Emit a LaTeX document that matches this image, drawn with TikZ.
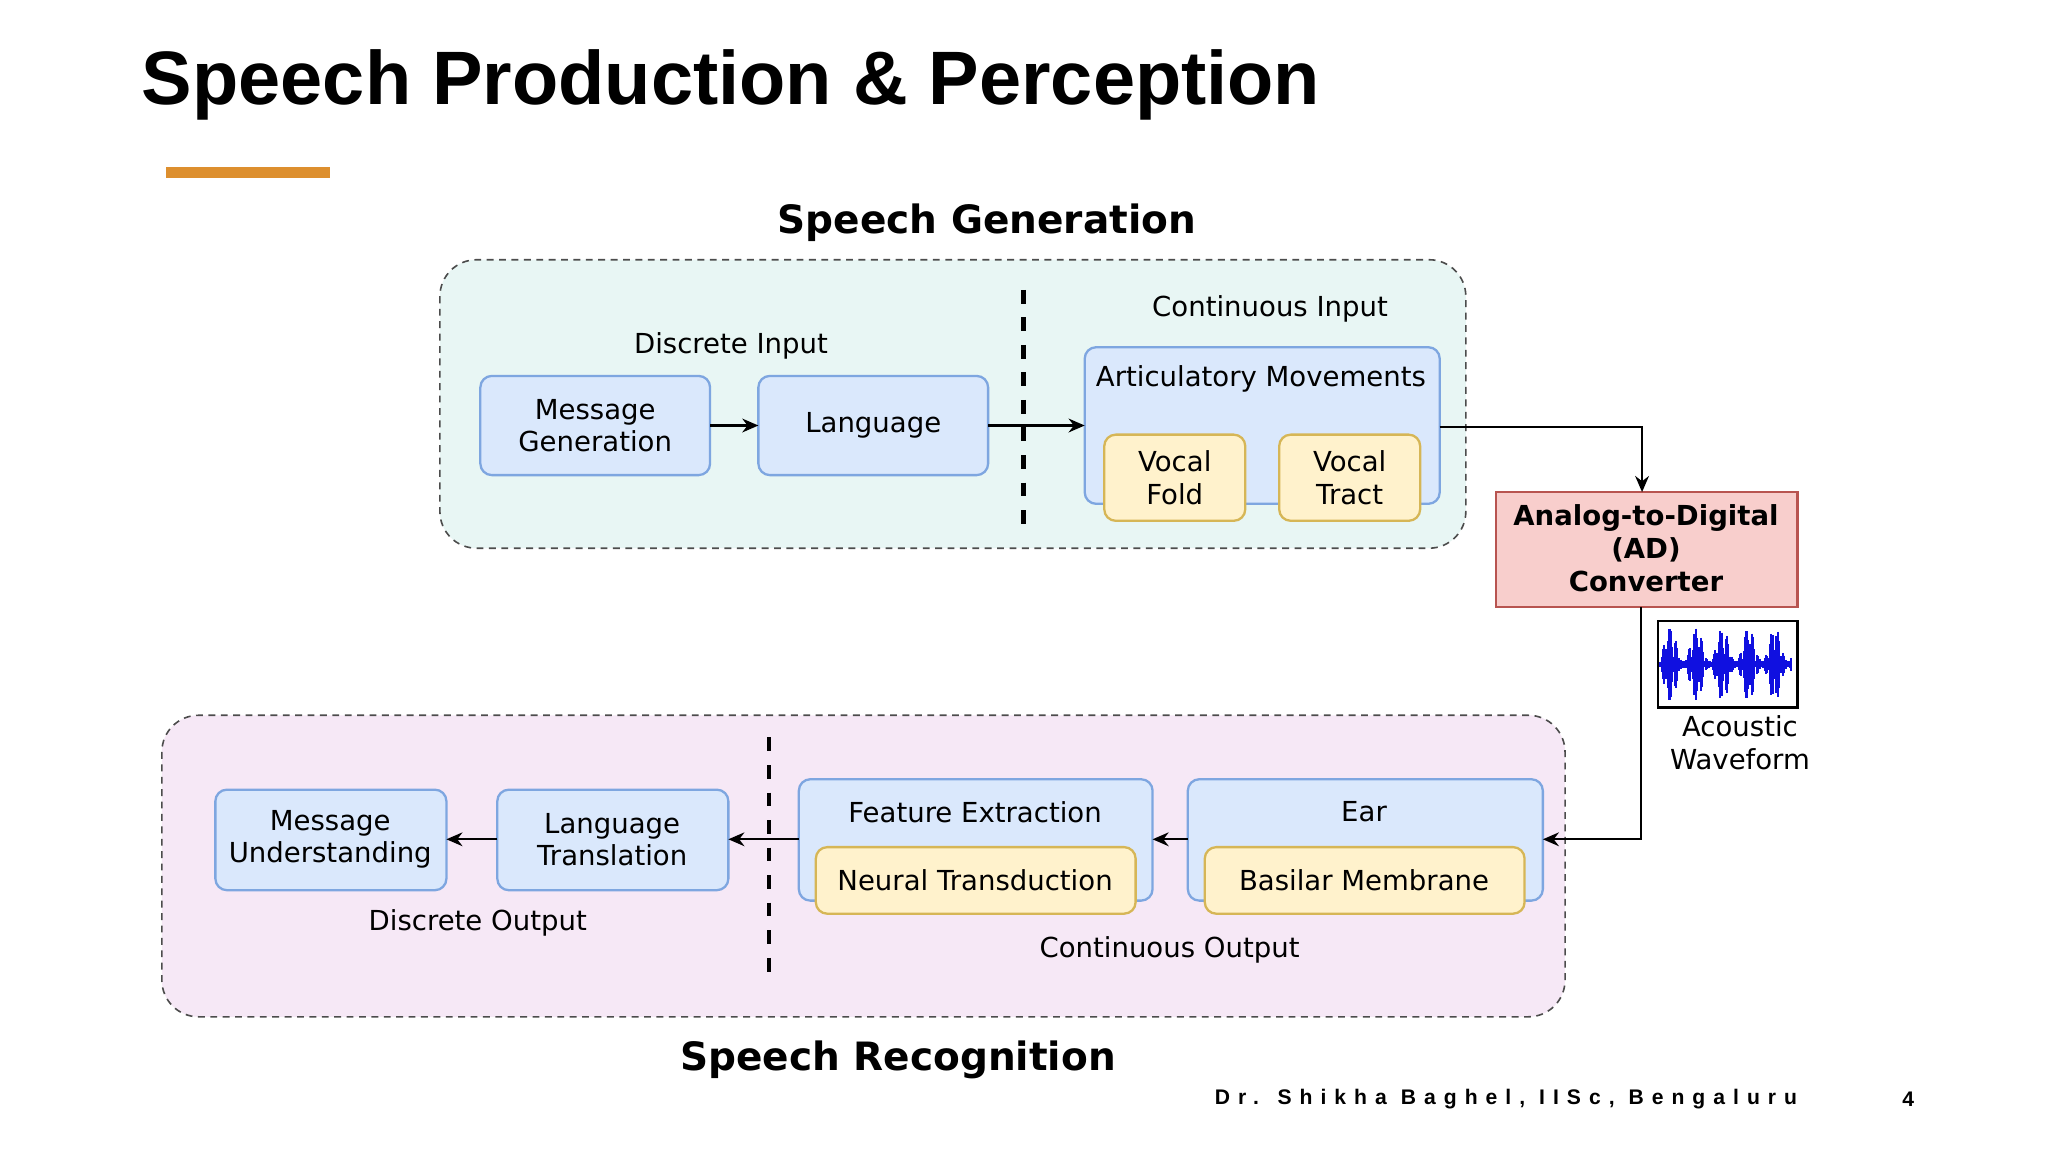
\documentclass[tikz,border=0pt]{standalone}
\usepackage{fontspec}
\setmainfont{DejaVu Sans}
\newfontfamily\titlefont{Liberation Sans}
\usetikzlibrary{arrows.meta}
\definecolor{blfill}{HTML}{DAE8FC}
\definecolor{bldraw}{HTML}{7EA6E0}
\definecolor{yefill}{HTML}{FFF2CC}
\definecolor{yedraw}{HTML}{D6B656}
\definecolor{rdfill}{HTML}{F8CECC}
\definecolor{rddraw}{HTML}{B85450}
\definecolor{genfill}{HTML}{E8F6F4}
\definecolor{recfill}{HTML}{F6E8F6}
\definecolor{barorange}{HTML}{DD8F2E}
\definecolor{wave}{HTML}{1010E0}
\begin{document}
\begin{tikzpicture}[x=0.01cm,y=-0.01cm,
  txt/.style={font=\fontsize{6}{7}\selectfont,align=center,inner sep=0pt},
  hdr/.style={font=\fontsize{8.5}{10}\selectfont\bfseries,inner sep=0pt},
  blue/.style={draw=bldraw,fill=blfill,line width=0.5pt,rounded corners=2.5pt},
  yell/.style={draw=yedraw,fill=yefill,line width=0.5pt,rounded corners=2.5pt},
  group/.style={draw=black!70,dash pattern=on 1.5pt off 1.2pt,line width=0.35pt,rounded corners=8pt},
  sep/.style={line width=1pt,dash pattern=on 3pt off 3pt},
  arr/.style={-{Stealth[length=3.5pt,width=3pt]},line width=0.5pt}]
\useasboundingbox (0,0) rectangle (1569,883);
\fill[white] (0,0) rectangle (1569,883);
% title
\node[anchor=west,inner sep=0pt,font=\titlefont\fontsize{16.5}{19}\selectfont\bfseries] (title) at (108,65) {Speech Production \& Perception};
\fill[barorange] (127,128) rectangle (253,136);
% generation group
\node[hdr] (genlbl) at (756,171) {Speech Generation};
\draw[group,fill=genfill] (337,199) rectangle (1123,420);
\draw[sep] (784,222) -- (784,410);
\node[txt] (din) at (560,265) {Discrete Input};
\node[txt] (cin) at (973,237) {Continuous Input};
\draw[blue] (368,288) rectangle (544,364); \node[txt] (mg) at (456,326) {Message\\Generation};
\draw[blue] (581,288) rectangle (757,364); \node[txt] (lang) at (669,326) {Language};
\draw[blue] (831,266) rectangle (1103,386); \node[txt] (art) at (966,290) {Articulatory Movements};
\draw[yell] (846,333) rectangle (954,399); \node[txt] (vf) at (900,366) {Vocal\\Fold};
\draw[yell] (980,333) rectangle (1088,399); \node[txt] (vt) at (1034,366) {Vocal\\Tract};
\coordinate (mgE) at (544,326); \coordinate (lgW) at (581,326);
\coordinate (lgE) at (757,326); \coordinate (arW) at (831,326);
\coordinate (arE) at (1103,327);
\draw[arr] (mgE) -- (lgW);
\draw[arr] (lgE) -- (arW);
% AD converter
\draw[rddraw,fill=rdfill,line width=0.5pt] (1146,377) rectangle (1377,465);
\node[txt,font=\fontsize{6}{7.2}\selectfont\bfseries] (ad) at (1261,420) {Analog-to-Digital\\(AD)\\Converter};
\coordinate (adN) at (1258,377); \coordinate (adS) at (1257,465);
\draw[arr] (arE) -| (adN);
% waveform
\draw[black,line width=0.5pt,fill=white] (1270,476) rectangle (1377,542);
\foreach \i in {0,...,100} {
  \pgfmathsetmacro{\h}{2+26*abs(sin(\i*37))*max(0.15,abs(sin(\i*9+20)))^2}
  \draw[wave,line width=0.45pt] ({1272+\i},{509-\h}) -- ({1272+\i},{509+\h});
}
\node[txt] (wav) at (1333,569) {Acoustic\\Waveform};
% recognition group
\draw[group,fill=recfill] (124,548) rectangle (1199,779);
\draw[sep] (589,565) -- (589,745);
\draw[blue] (910,597) rectangle (1182,690); \node[txt] (ear) at (1045,622) {Ear};
\draw[yell] (923,649) rectangle (1168,700); \node[txt] (bm) at (1045,674) {Basilar Membrane};
\draw[blue] (612,597) rectangle (883,690); \node[txt] (fe) at (747,622) {Feature Extraction};
\draw[yell] (625,649) rectangle (870,700); \node[txt] (nt) at (747,674) {Neural Transduction};
\draw[blue] (381,605) rectangle (558,682); \node[txt] (lt) at (469,643) {Language\\Translation};
\draw[blue] (165,605) rectangle (342,682); \node[txt] (mu) at (253,643) {Message\\Understanding};
\coordinate (earE) at (1182,643); \coordinate (earW) at (910,643);
\coordinate (feE) at (883,643); \coordinate (feW) at (612,643);
\coordinate (ltE) at (558,643); \coordinate (ltW) at (381,643);
\coordinate (muE) at (342,643);
\draw[arr] (adS) |- (earE);
\draw[arr] (earW) -- (feE);
\draw[arr] (feW) -- (ltE);
\draw[arr] (ltW) -- (muE);
\node[txt] (dout) at (366,707) {Discrete Output};
\node[txt] (cout) at (896,728) {Continuous Output};
\node[hdr] (reclbl) at (688,812) {Speech Recognition};
% footer
\node[anchor=west,inner sep=0pt,font=\titlefont\fontsize{4.6}{5}\selectfont\bfseries\addfontfeatures{LetterSpace=38}] (foot) at (930,842) {Dr. Shikha Baghel, IISc, Bengaluru};
\node[inner sep=0pt,font=\titlefont\fontsize{4.6}{5}\selectfont\bfseries] (page) at (1462,842) {4};
\end{tikzpicture}
\end{document}
